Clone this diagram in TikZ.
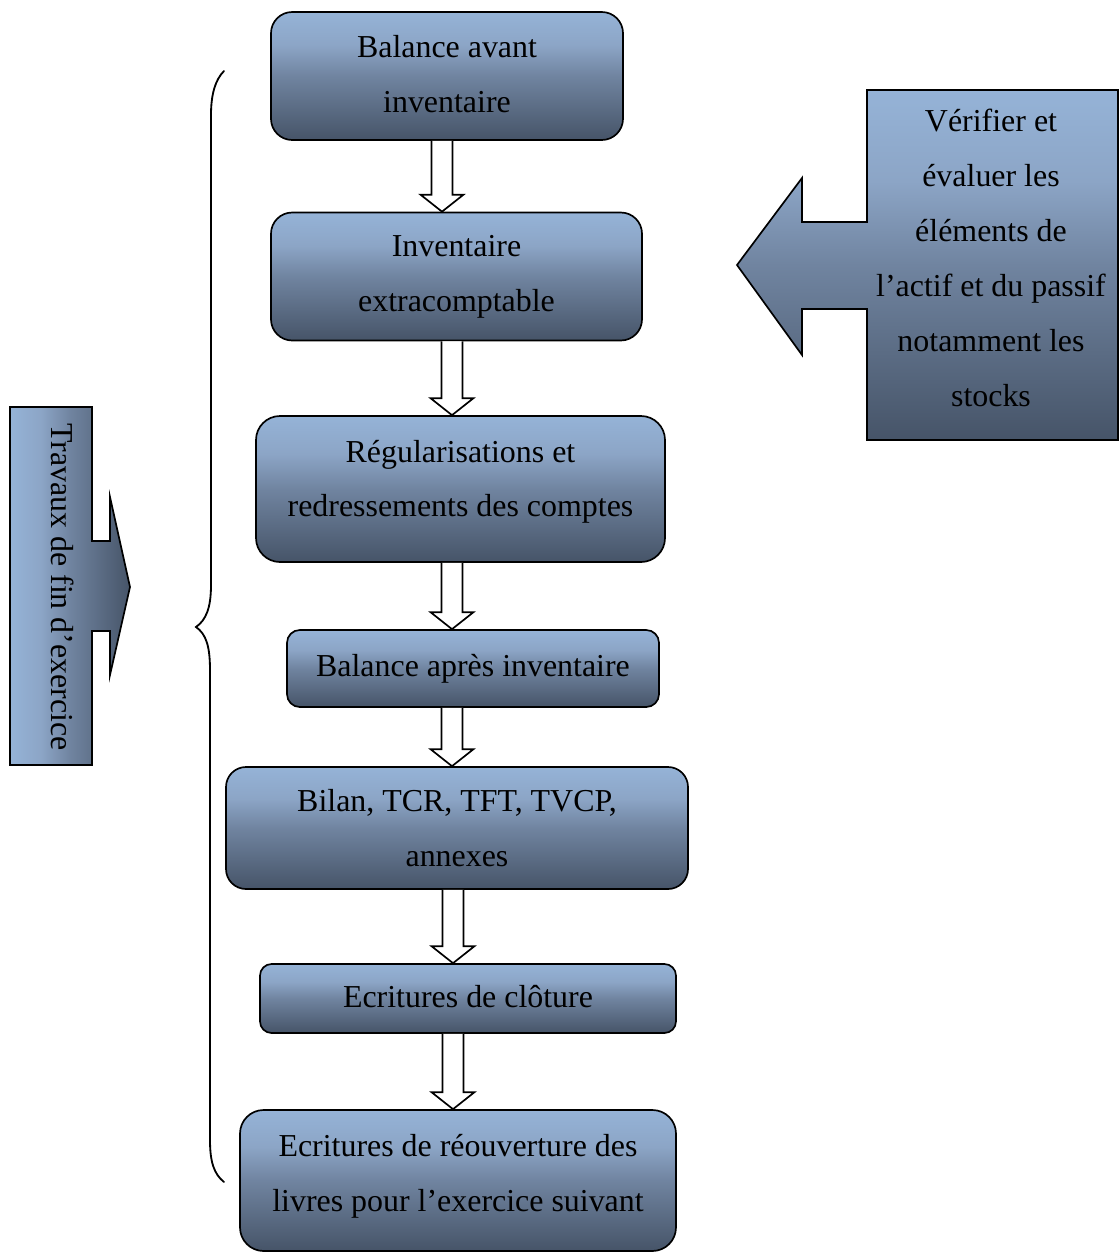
\documentclass[tikz,border=0pt]{standalone}
\usepackage{fontspec}
\setmainfont{Liberation Serif}
\usetikzlibrary{calc}

% gradient colours of the step boxes
\definecolor{gLight}{RGB}{149,179,215}
\definecolor{gUpper}{RGB}{140,165,198}
\definecolor{gMid}{RGB}{112,132,160}
\definecolor{gDark}{RGB}{70,84,104}
\pgfdeclareverticalshading{boxshade}{100bp}{color(0bp)=(gDark); color(25bp)=(gDark); color(50bp)=(gMid); color(62bp)=(gUpper); color(75bp)=(gLight); color(100bp)=(gLight)}
\pgfdeclarehorizontalshading{sideshade}{100bp}{color(0bp)=(gLight); color(25bp)=(gLight); color(38bp)=(gUpper); color(50bp)=(gMid); color(75bp)=(gDark); color(100bp)=(gDark)}

\newlength\pxu
\setlength\pxu{0.025cm}
% extra depth on the last line lifts the text inside its box
\newcommand\lowpad[1]{\rule[-#1]{0pt}{#1}}

% hollow block arrow between two boxes, at a given x position
\newcommand\hollowarr[3]{%
  \draw[hollowarrow] let \p1=(#1.south), \p2=(#2.north), \p3=(#3,0) in
    (\x3-10.5*\pxu,\y1) -- (\x3-10.5*\pxu,\y2+17*\pxu) -- (\x3-21.5*\pxu,\y2+17*\pxu)
    -- (\x3,\y2) -- (\x3+21.5*\pxu,\y2+17*\pxu) -- (\x3+10.5*\pxu,\y2+17*\pxu)
    -- (\x3+10.5*\pxu,\y1);}

\tikzset{
  txt/.style={font=\fontsize{22.7}{39}\selectfont, align=center},
  stepbox/.style={txt, draw=black, line width=1.2pt, shading=boxshade,
    rounded corners=#1, inner sep=0pt},
  hollowarrow/.style={draw=black, line width=1.2pt, fill=white, line join=miter},
  sideshape/.style={draw=black, line width=1.2pt, line join=miter},
  bracestyle/.style={draw=black, line width=1.3pt, line cap=round},
}

\begin{document}
\begin{tikzpicture}[x=0.025cm, y=-0.025cm]
\useasboundingbox (0,0) rectangle (1119,1252);

% step boxes
\node[stepbox=0.53cm, minimum width=352*\pxu, minimum height=128*\pxu] (b1) at (447,76)
  {Balance avant\\inventaire\lowpad{3pt}};
\node[stepbox=0.53cm, minimum width=371*\pxu, minimum height=128*\pxu] (b2) at (456.5,276.5)
  {Inventaire\\extracomptable};
\node[stepbox=0.6cm, minimum width=409*\pxu, minimum height=146*\pxu] (b3) at (460.5,489)
  {Régularisations et\\redressements des comptes\lowpad{15pt}};
\node[stepbox=0.32cm, minimum width=372*\pxu, minimum height=77*\pxu] (b4) at (473,668.5)
  {Balance après inventaire\lowpad{3pt}};
\node[stepbox=0.5cm, minimum width=462*\pxu, minimum height=122*\pxu] (b5) at (457,828)
  {Bilan, TCR, TFT, TVCP,\\annexes};
\node[stepbox=0.29cm, minimum width=416*\pxu, minimum height=69*\pxu] (b6) at (468,998.5)
  {Ecritures de clôture\lowpad{3pt}};
\node[stepbox=0.59cm, minimum width=436*\pxu, minimum height=141*\pxu] (b7) at (458,1180.5)
  {Ecritures de réouverture des\\livres pour l’exercice suivant\lowpad{11pt}};

% arrows between the steps
\hollowarr{b1}{b2}{442}
\hollowarr{b2}{b3}{452}
\hollowarr{b3}{b4}{452}
\hollowarr{b4}{b5}{452}
\hollowarr{b5}{b6}{453}
\hollowarr{b6}{b7}{453}

% left label arrow
\path[sideshape, shading=sideshade]
  (10,407) -- (92,407) -- (92,541) -- (110,541) -- (110,497) -- (130,587)
  -- (110,675) -- (110,631) -- (92,631) -- (92,765) -- (10,765) -- cycle;
\node[txt, rotate=-90] (lt) at (63,587) {Travaux de fin d’exercice};

% right callout pointing to the inventory step
\path[sideshape, shading=boxshade]
  (867,90) -- (1118,90) -- (1118,440) -- (867,440) -- (867,309) -- (802,309)
  -- (802,355) -- (737,265) -- (802,178) -- (802,222) -- (867,222) -- cycle;
\node[txt] (rt) at (991,258)
  {Vérifier et\\évaluer les\\éléments de\\l’actif et du passif\\notamment les\\stocks};

% curly brace grouping the steps
\draw[bracestyle] (224,71) .. controls (215,80) and (211,95) .. (211,115)
  -- (211,585) .. controls (211,608) and (206,620) .. (196,627)
  .. controls (206,634) and (210,646) .. (210,670)
  -- (210,1140) .. controls (210,1162) and (214,1174) .. (224,1182);
\end{tikzpicture}
\end{document}
